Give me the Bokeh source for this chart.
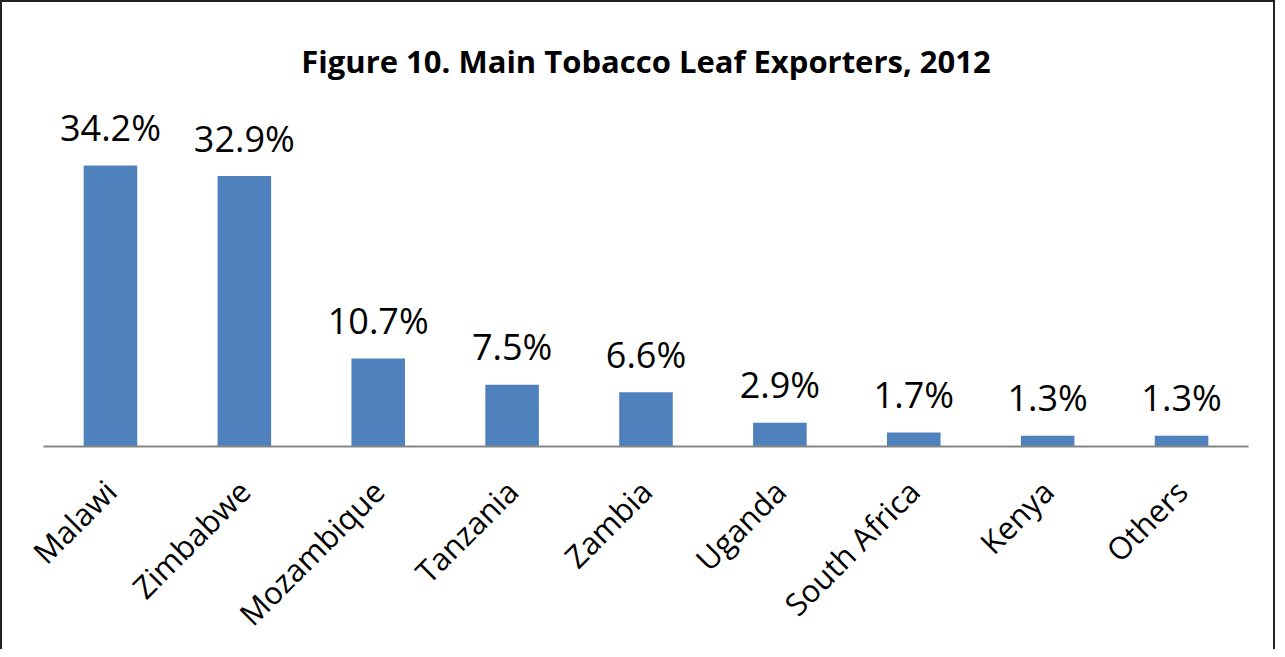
import math
from bokeh.plotting import figure
from bokeh.models import FactorRange, Range1d, ColumnDataSource
from bokeh.core.properties import value
from bokeh.embed import file_html
from bokeh.resources import INLINE

countries = ["Malawi", "Zimbabwe", "Mozambique", "Tanzania", "Zambia",
             "Uganda", "South Africa", "Kenya", "Others"]
shares = [34.2, 32.9, 10.7, 7.5, 6.6, 2.9, 1.7, 1.3, 1.3]
share_labels = ["34.2%", "32.9%", "10.7%", "7.5%", "6.6%", "2.9%", "1.7%", "1.3%", "1.3%"]

FONT = "Open Sans"

src = ColumnDataSource(dict(country=countries, share=shares, label=share_labels))

p = figure(
    x_range=FactorRange(factors=countries, range_padding=0),
    y_range=Range1d(0, 42.1),
    width=1275, height=649,
    output_backend="svg", toolbar_location=None,
    min_border_left=41, min_border_right=29, min_border_top=98, min_border_bottom=205,
    title="Figure 10. Main Tobacco Leaf Exporters, 2012",
)
p.styles = {"border-top": "2px solid #222222",
            "border-left": "2px solid #222222",
            "border-right": "2px solid #222222"}

p.vbar(x="country", top="share", width=0.4, source=src,
       fill_color="#4F81BD", line_color=None)

p.text(x="country", y="share", text="label", source=src,
       text_align="center", text_baseline="alphabetic", y_offset=-38,
       text_font=value(FONT), text_font_size="36px", text_color="#000000")

p.title.align = "center"
p.title.text_font = FONT
p.title.text_font_style = "bold"
p.title.text_font_size = "31px"
p.title.text_color = "#000000"
p.title.standoff = 38

p.yaxis.visible = False
p.xgrid.grid_line_color = None
p.ygrid.grid_line_color = None
p.outline_line_color = None

xa = p.xaxis[0]
xa.axis_line_color = "#868686"
xa.axis_line_width = 2
xa.major_tick_line_color = None
xa.minor_tick_line_color = None
xa.major_label_orientation = math.pi / 4
xa.major_label_text_font = FONT
xa.major_label_text_font_size = "31px"
xa.major_label_text_line_height = 1.0
xa.major_label_text_color = "#000000"
xa.major_label_standoff = 33

open("out.html", "w").write(file_html(p, INLINE))
